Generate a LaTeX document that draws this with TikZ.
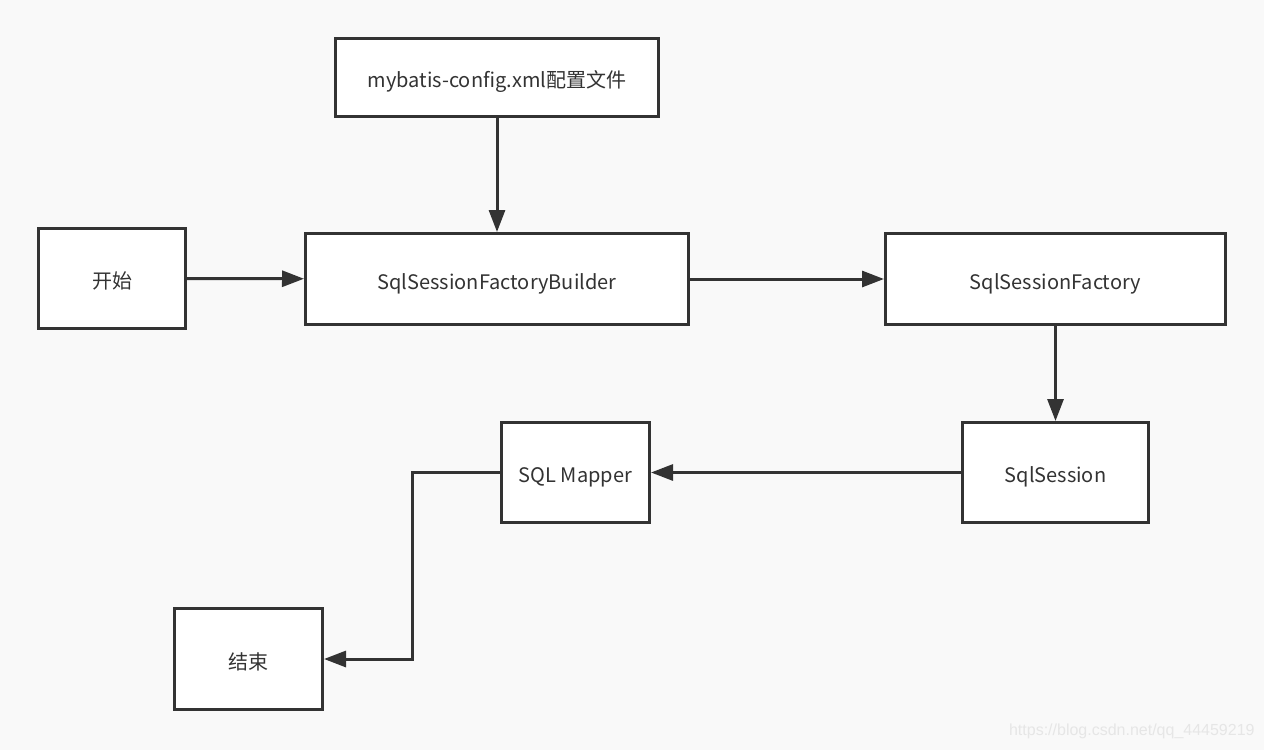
\documentclass[tikz,border=0pt]{standalone}
\usepackage{fontspec}
\setmainfont{Noto Sans CJK SC}
\newfontfamily\markfont{Liberation Sans}
\usetikzlibrary{arrows.meta}
\definecolor{ink}{HTML}{333333}
\definecolor{paper}{HTML}{F9F9F9}
\definecolor{markgray}{HTML}{E6E6E6}
\tikzset{
  flowbox/.style={draw=ink, fill=white, line width=1.5pt, inner sep=0pt,
    text height=11pt, text depth=1pt,
    font=\fontsize{10pt}{12pt}\selectfont, text=ink},
  flowarrow/.style={draw=ink, line width=1.5pt,
    -{Triangle[length=11pt,width=8pt]}},
}
\begin{document}
\begin{tikzpicture}[x=0.5pt,y=-0.5pt]
\fill[paper] (0,0) rectangle (1264,750);
\useasboundingbox (0,0) rectangle (1264,750);
\node[flowbox, minimum width=161.5pt, minimum height=39pt] (config) at (497,77.5) {mybatis-config.xml配置文件};
\node[flowbox, minimum width=73.5pt, minimum height=50pt] (start) at (112,278.5) {开始};
\node[flowbox, minimum width=191.5pt, minimum height=45.5pt] (builder) at (497,279) {SqlSessionFactoryBuilder};
\node[flowbox, minimum width=170pt, minimum height=45.5pt] (factory) at (1055.5,279) {SqlSessionFactory};
\node[flowbox, minimum width=93pt, minimum height=50pt] (session) at (1055.5,472.5) {SqlSession};
\node[flowbox, minimum width=74pt, minimum height=50pt] (mapper) at (575.5,472.5) {SQL Mapper};
\node[flowbox, minimum width=74pt, minimum height=50.5pt] (finish) at (248.5,659) {结束};
\coordinate (bend) at (412,472.5);
% connectors
\draw[flowarrow] (config) -- (builder);
\draw[flowarrow] (start) -- (builder);
\draw[flowarrow] (builder) -- (factory);
\draw[flowarrow] (factory) -- (session);
\draw[flowarrow] (session) -- (mapper);
\draw[flowarrow] (mapper.west) -- (bend) |- (finish.east);
% watermark
\node[anchor=east, inner sep=0pt, text=markgray, font=\markfont\fontsize{8pt}{9pt}\selectfont] (mark) at (1255,731) {https://blog.csdn.net/qq\_44459219};
\end{tikzpicture}
\end{document}
